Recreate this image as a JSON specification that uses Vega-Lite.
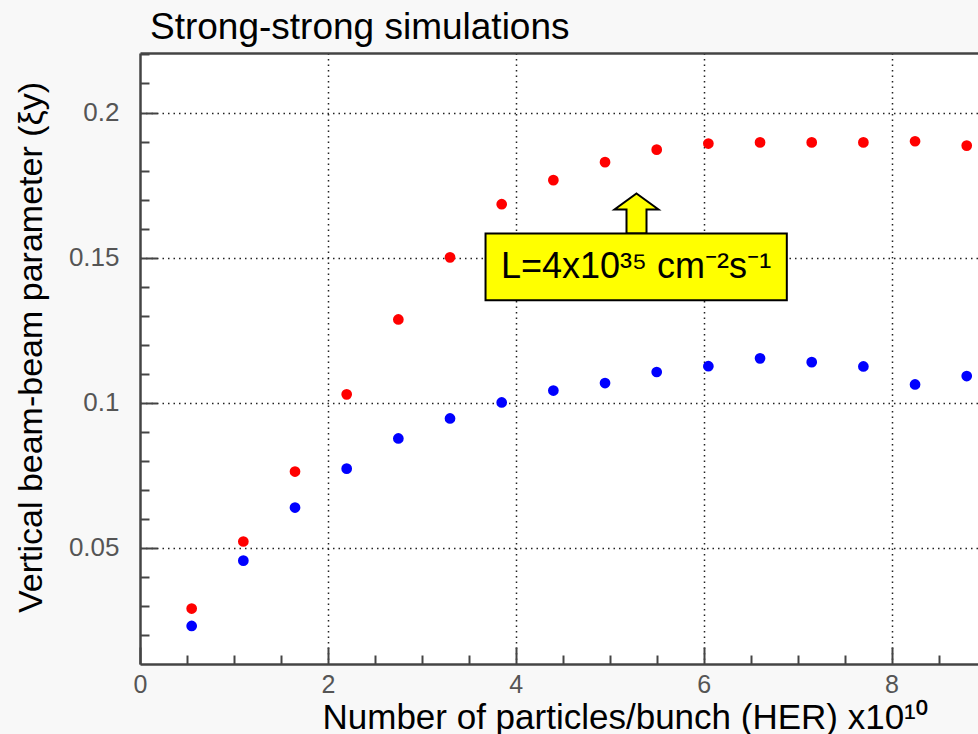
{
  "$schema": "https://vega.github.io/schema/vega-lite/v6.json",
  "width": 838,
  "height": 611,
  "autosize": {"type": "none"},
  "padding": {"left": 140, "top": 53, "right": 0, "bottom": 70},
  "background": "#f8f8f8",
  "title": {
    "text": "Strong-strong simulations",
    "anchor": "start",
    "frame": "group",
    "dx": 10,
    "dy": 18,
    "offset": 12,
    "fontSize": 37,
    "font": "Liberation Sans",
    "fontWeight": "normal",
    "color": "#000000"
  },
  "config": {"view": {"stroke": null, "fill": "#ffffff"}},
  "datasets": {
    "points": [
      {"n": 0.55, "xi": 0.0291, "series": "upper"},
      {"n": 1.1, "xi": 0.0522, "series": "upper"},
      {"n": 1.65, "xi": 0.0763, "series": "upper"},
      {"n": 2.2, "xi": 0.1029, "series": "upper"},
      {"n": 2.75, "xi": 0.1287, "series": "upper"},
      {"n": 3.3, "xi": 0.1501, "series": "upper"},
      {"n": 3.85, "xi": 0.1684, "series": "upper"},
      {"n": 4.4, "xi": 0.1767, "series": "upper"},
      {"n": 4.95, "xi": 0.1829, "series": "upper"},
      {"n": 5.5, "xi": 0.1872, "series": "upper"},
      {"n": 6.05, "xi": 0.1893, "series": "upper"},
      {"n": 6.6, "xi": 0.1897, "series": "upper"},
      {"n": 7.15, "xi": 0.1897, "series": "upper"},
      {"n": 7.7, "xi": 0.1897, "series": "upper"},
      {"n": 8.25, "xi": 0.1901, "series": "upper"},
      {"n": 8.8, "xi": 0.1886, "series": "upper"},
      {"n": 0.55, "xi": 0.0231, "series": "lower"},
      {"n": 1.1, "xi": 0.0456, "series": "lower"},
      {"n": 1.65, "xi": 0.0639, "series": "lower"},
      {"n": 2.2, "xi": 0.0773, "series": "lower"},
      {"n": 2.75, "xi": 0.0877, "series": "lower"},
      {"n": 3.3, "xi": 0.0946, "series": "lower"},
      {"n": 3.85, "xi": 0.1001, "series": "lower"},
      {"n": 4.4, "xi": 0.1042, "series": "lower"},
      {"n": 4.95, "xi": 0.1068, "series": "lower"},
      {"n": 5.5, "xi": 0.1106, "series": "lower"},
      {"n": 6.05, "xi": 0.1126, "series": "lower"},
      {"n": 6.6, "xi": 0.1153, "series": "lower"},
      {"n": 7.15, "xi": 0.1140, "series": "lower"},
      {"n": 7.7, "xi": 0.1125, "series": "lower"},
      {"n": 8.25, "xi": 0.1063, "series": "lower"},
      {"n": 8.8, "xi": 0.1092, "series": "lower"}
    ],
    "note": [
      {"x": 3.678, "x2": 6.885, "y": 0.1353, "y2": 0.1583, "ax": 5.285, "ay": 0.1652, "tx": 5.28, "ty": 0.1468, "label": "L=4x10³⁵ cm⁻²s⁻¹"}
    ]
  },
  "resolve": {"axis": {"x": "independent", "y": "independent"}},
  "layer": [
    {
      "data": {"name": "points"},
      "mark": {"type": "point", "filled": true, "size": 115, "opacity": 1, "shape": "circle"},
      "encoding": {
        "x": {
          "field": "n",
          "type": "quantitative",
          "scale": {"domain": [0, 8.92], "nice": false, "zero": false},
          "axis": {
            "orient": "bottom",
            "title": "Number of particles/bunch (HER) x10¹⁰",
            "values": [0, 0.5, 1, 1.5, 2, 2.5, 3, 3.5, 4, 4.5, 5, 5.5, 6, 6.5, 7, 7.5, 8, 8.5],
            "labelExpr": "datum.value % 2 == 0 ? format(datum.value, '~g') : ''",
            "labelFont": "Liberation Sans",
            "labelFontSize": 25,
            "labelColor": "#555555",
            "labelPadding": 25,
            "labelFlush": false,
            "labelOverlap": false,
            "domainColor": "#444444",
            "domainWidth": 2.5,
            "tickColor": "#444444",
            "tickWidth": 2,
            "tickSize": {"condition": {"test": "datum.value % 2 == 0", "value": -17}, "value": -9},
            "grid": true,
            "gridColor": "#222222",
            "gridWidth": 1.5,
            "gridDash": [1.5, 4],
            "gridOpacity": {"condition": {"test": "datum.value % 2 == 0 && datum.value > 0", "value": 1}, "value": 0},
            "titleFont": "Liberation Sans, Noto Sans",
            "titleFontSize": 35,
            "titleFontWeight": "normal",
            "titleColor": "#000000",
            "titleAlign": "left",
            "titleBaseline": "alphabetic",
            "titleX": 182,
            "titleY": 64
          }
        },
        "y": {
          "field": "xi",
          "type": "quantitative",
          "scale": {"domain": [0.01, 0.2205], "nice": false, "zero": false},
          "axis": {
            "orient": "left",
            "title": "Vertical beam-beam parameter (ξy)",
            "values": [0.02, 0.03, 0.04, 0.05, 0.06, 0.07, 0.08, 0.09, 0.1, 0.11, 0.12, 0.13, 0.14, 0.15, 0.16, 0.17, 0.18, 0.19, 0.2, 0.21, 0.22],
            "labelExpr": "abs(datum.value*20 - round(datum.value*20)) < 0.001 ? format(datum.value, '~g') : ''",
            "labelFont": "Liberation Sans",
            "labelFontSize": 26,
            "labelColor": "#555555",
            "labelPadding": 38,
            "labelFlush": false,
            "labelOverlap": false,
            "domainColor": "#444444",
            "domainWidth": 2.5,
            "tickColor": "#444444",
            "tickWidth": 2,
            "tickSize": {"condition": {"test": "abs(datum.value*20 - round(datum.value*20)) < 0.001", "value": -17}, "value": -9},
            "grid": true,
            "gridColor": "#222222",
            "gridWidth": 1.5,
            "gridDash": [1.5, 4],
            "gridOpacity": {"condition": {"test": "abs(datum.value*20 - round(datum.value*20)) < 0.001", "value": 1}, "value": 0},
            "titleFont": "Liberation Sans",
            "titleFontSize": 34,
            "titleFontWeight": "normal",
            "titleColor": "#000000",
            "titleAngle": -90,
            "titleAlign": "center",
            "titleBaseline": "alphabetic",
            "titleX": -99,
            "titleY": 294
          }
        },
        "color": {
          "field": "series",
          "type": "nominal",
          "scale": {"domain": ["upper", "lower"], "range": ["#ff0000", "#0000ff"]},
          "legend": null
        }
      }
    },
    {
      "data": {"name": "note"},
      "mark": {"type": "point", "shape": "M0,-0.909L1,-0.182L0.4545,-0.182L0.4545,0.909L-0.4545,0.909L-0.4545,-0.182L-1,-0.182Z", "size": 1936, "filled": false, "fill": "#ffff00", "fillOpacity": 1, "stroke": "#000000", "strokeWidth": 2, "opacity": 1},
      "encoding": {
        "x": {"field": "ax", "type": "quantitative", "scale": {"domain": [0, 8.92], "nice": false, "zero": false}, "axis": null},
        "y": {"field": "ay", "type": "quantitative", "scale": {"domain": [0.01, 0.2205], "nice": false, "zero": false}, "axis": null}
      }
    },
    {
      "data": {"name": "note"},
      "mark": {"type": "rect", "fill": "#ffff00", "stroke": "#000000", "strokeWidth": 2},
      "encoding": {
        "x": {
          "field": "x",
          "type": "quantitative",
          "scale": {"domain": [0, 8.92], "nice": false, "zero": false},
          "axis": {"orient": "top", "domain": true, "ticks": false, "labels": false, "grid": false, "title": null, "domainColor": "#444444", "domainWidth": 2.5}
        },
        "x2": {"field": "x2"},
        "y": {"field": "y", "type": "quantitative", "scale": {"domain": [0.01, 0.2205], "nice": false, "zero": false}, "axis": null},
        "y2": {"field": "y2"}
      }
    },
    {
      "data": {"name": "note"},
      "mark": {"type": "text", "font": "Liberation Sans, Noto Sans", "fontSize": 36, "align": "center", "baseline": "middle", "color": "#000000"},
      "encoding": {
        "x": {"field": "tx", "type": "quantitative", "scale": {"domain": [0, 8.92], "nice": false, "zero": false}, "axis": null},
        "y": {"field": "ty", "type": "quantitative", "scale": {"domain": [0.01, 0.2205], "nice": false, "zero": false}, "axis": null},
        "text": {"field": "label"}
      }
    }
  ]
}
